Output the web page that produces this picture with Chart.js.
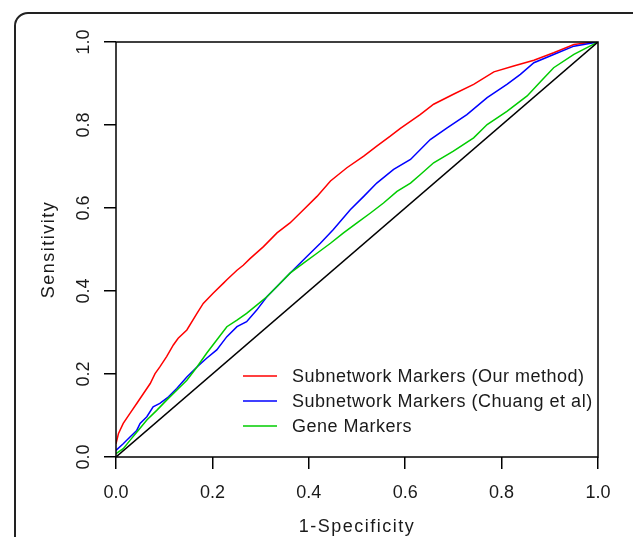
<!DOCTYPE html>
<html>
<head>
<meta charset="utf-8">
<script src="https://cdn.jsdelivr.net/npm/chart.js@4"></script>
<style>
  html, body { margin: 0; padding: 0; background: #fff; overflow: hidden; }
  #frame { position: absolute; left: 14px; top: 12px; width: 640px; height: 560px; border: 2px solid #222; border-radius: 14px; }
  #roc { position: absolute; left: 0; top: 0; }
</style>
</head>
<body>
<div id="frame"></div>
<canvas id="roc" width="633" height="537"></canvas>
<script>
// ROC curves (1-specificity, sensitivity)
var fprRed = [0, 0.005, 0.015, 0.029, 0.043, 0.057, 0.071, 0.081, 0.091, 0.105, 0.119, 0.129, 0.147, 0.168, 0.181, 0.202, 0.223, 0.23, 0.251, 0.264, 0.278, 0.306, 0.334, 0.361, 0.389, 0.417, 0.445, 0.479, 0.514, 0.541, 0.569, 0.59, 0.631, 0.659, 0.7, 0.742, 0.784, 0.825, 0.867, 0.908, 0.95, 0.991, 1];
var tprRed = [0.032, 0.056, 0.081, 0.105, 0.129, 0.153, 0.177, 0.201, 0.217, 0.242, 0.27, 0.286, 0.306, 0.346, 0.37, 0.395, 0.419, 0.427, 0.45, 0.462, 0.478, 0.507, 0.54, 0.564, 0.596, 0.628, 0.665, 0.697, 0.725, 0.749, 0.773, 0.792, 0.825, 0.85, 0.874, 0.898, 0.928, 0.942, 0.956, 0.974, 0.994, 1, 1];

var fprBlue = [0, 0.015, 0.029, 0.043, 0.05, 0.064, 0.077, 0.091, 0.109, 0.126, 0.147, 0.168, 0.188, 0.209, 0.23, 0.251, 0.271, 0.292, 0.313, 0.334, 0.361, 0.396, 0.424, 0.451, 0.486, 0.514, 0.541, 0.576, 0.611, 0.652, 0.687, 0.728, 0.77, 0.811, 0.839, 0.867, 0.908, 0.95, 1];
var tprBlue = [0.016, 0.032, 0.048, 0.064, 0.081, 0.097, 0.121, 0.129, 0.145, 0.165, 0.193, 0.217, 0.238, 0.258, 0.29, 0.314, 0.326, 0.354, 0.386, 0.411, 0.443, 0.483, 0.515, 0.548, 0.596, 0.628, 0.66, 0.693, 0.717, 0.765, 0.793, 0.825, 0.866, 0.898, 0.922, 0.95, 0.97, 0.99, 1];

var fprGreen = [0, 0.015, 0.029, 0.046, 0.064, 0.085, 0.105, 0.126, 0.147, 0.168, 0.188, 0.209, 0.23, 0.251, 0.271, 0.292, 0.313, 0.334, 0.361, 0.389, 0.417, 0.445, 0.472, 0.5, 0.528, 0.555, 0.583, 0.611, 0.631, 0.659, 0.7, 0.742, 0.77, 0.811, 0.853, 0.881, 0.908, 0.95, 1];
var tprGreen = [0.008, 0.02, 0.04, 0.064, 0.089, 0.113, 0.137, 0.161, 0.185, 0.217, 0.25, 0.282, 0.314, 0.33, 0.346, 0.366, 0.386, 0.411, 0.443, 0.467, 0.491, 0.515, 0.54, 0.564, 0.588, 0.612, 0.64, 0.66, 0.68, 0.709, 0.737, 0.769, 0.801, 0.833, 0.87, 0.905, 0.938, 0.97, 1];

var fprDiag = [0, 1];
var tprDiag = [0, 1];

var legendLabels = ["Subnetwork Markers (Our method)", "Subnetwork Markers (Chuang et al)", "Gene Markers"];
var legendColors = ["#ff0000", "#0000ff", "#00cc00"];

function pts(xs, ys) {
  return xs.map(function (x, i) { return { x: x, y: ys[i] }; });
}

var txt = "#1a1a1a";
var fontName = '"Liberation Sans", Arial, sans-serif';

// ticks labels, box, titles and legend
var rocExtras = {
  id: "rocExtras",
  afterDatasetsDraw: function (chart) {
    var ctx = chart.ctx, a = chart.chartArea;
    var xs = chart.scales.x, ys = chart.scales.y;
    ctx.save();
    ctx.strokeStyle = "#000";
    ctx.lineWidth = 1.5;
    ctx.strokeRect(a.left, a.top, a.right - a.left, a.bottom - a.top);

    ctx.fillStyle = txt;
    ctx.font = "18px " + fontName;
    ctx.textAlign = "center";
    ctx.textBaseline = "alphabetic";
    xs.ticks.forEach(function (t) {
      ctx.fillText(t.value.toFixed(1), xs.getPixelForValue(t.value), 498);
    });
    ys.ticks.forEach(function (t) {
      ctx.save();
      ctx.translate(89, ys.getPixelForValue(t.value));
      ctx.rotate(-Math.PI / 2);
      ctx.fillText(t.value.toFixed(1), 0, 0);
      ctx.restore();
    });

    // axis titles
    ctx.letterSpacing = "1.5px";
    ctx.fillText("1-Specificity", (a.left + a.right) / 2, 532);
    ctx.save();
    ctx.translate(54, (a.top + a.bottom) / 2);
    ctx.rotate(-Math.PI / 2);
    ctx.fillText("Sensitivity", 0, 0);
    ctx.restore();

    // legend
    ctx.letterSpacing = "0.5px";
    ctx.textAlign = "left";
    ctx.textBaseline = "middle";
    legendLabels.forEach(function (lab, i) {
      var y = 376 + i * 25;
      ctx.strokeStyle = legendColors[i];
      ctx.lineWidth = 1.5;
      ctx.beginPath();
      ctx.moveTo(243, y);
      ctx.lineTo(277, y);
      ctx.stroke();
      ctx.fillText(lab, 292, y + 1);
    });
    ctx.restore();
  }
};

function line(data, color) {
  return {
    data: data,
    borderColor: color,
    borderWidth: 1.5,
    pointRadius: 0,
    showLine: true,
    tension: 0,
    fill: false
  };
}

new Chart(document.getElementById("roc"), {
  type: "scatter",
  data: {
    datasets: [
      line(pts(fprDiag, tprDiag), "#000000"),
      line(pts(fprGreen, tprGreen), legendColors[2]),
      line(pts(fprBlue, tprBlue), legendColors[1]),
      line(pts(fprRed, tprRed), legendColors[0])
    ]
  },
  options: {
    responsive: false,
    animation: false,
    devicePixelRatio: 1,
    layout: { padding: { left: 0, top: 42, right: 35, bottom: 0 } },
    plugins: { legend: { display: false }, tooltip: { enabled: false } },
    scales: {
      x: {
        type: "linear",
        min: 0,
        max: 1,
        ticks: { stepSize: 0.2, display: false },
        grid: { drawOnChartArea: false, drawTicks: true, tickLength: 12, color: "#000", lineWidth: 1.5 },
        border: { display: false },
        afterFit: function (s) { s.height = 80; }
      },
      y: {
        type: "linear",
        min: 0,
        max: 1,
        ticks: { stepSize: 0.2, display: false },
        grid: { drawOnChartArea: false, drawTicks: true, tickLength: 12, color: "#000", lineWidth: 1.5 },
        border: { display: false },
        afterFit: function (s) { s.width = 116; }
      }
    }
  },
  plugins: [rocExtras]
});
</script>
</body>
</html>
